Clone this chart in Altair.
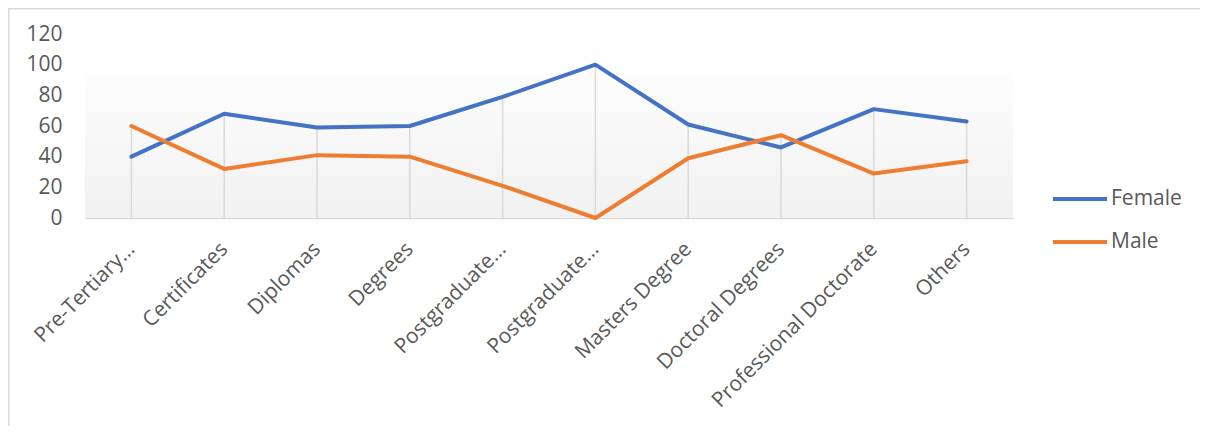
import json
import altair as alt
import pandas as pd

categories = ["Pre-Tertiary…", "Certificates", "Diplomas", "Degrees", "Postgraduate…",
              "Postgraduate…", "Masters Degree", "Doctoral Degrees",
              "Professional Doctorate", "Others"]
female = [40, 68, 59, 60, 79, 100, 61, 46, 71, 63]
male = [60, 32, 41, 40, 21, 0, 39, 54, 29, 37]
series = ["Female", "Male"]
colors = ["#4472C4", "#ED7D31"]
y_ticks = [0, 20, 40, 60, 80, 100, 120]

rows = []
for i, c in enumerate(categories):
    rows.append({"i": i, "cat": c, "series": "Female", "value": female[i]})
    rows.append({"i": i, "cat": c, "series": "Male", "value": male[i]})
long_df = pd.DataFrame(rows)
drop_df = pd.DataFrame({"i": list(range(len(categories))),
                        "top": [max(f, m) for f, m in zip(female, male)]})

W, H = 928, 184
FS = 21
label_expr = json.dumps(categories) + "[datum.value]"

x_enc = alt.X("i:O", title=None,
              scale=alt.Scale(type="point", padding=0.5),
              axis=alt.Axis(labelExpr=label_expr, labelAngle=-45, labelAlign="right",
                            labelBaseline="top", labelPadding=20, labelOffset=-8,
                            ticks=False, domain=True, domainColor="#D9D9D9",
                            domainWidth=1.5, grid=False, labelFontSize=FS,
                            labelColor="#595959", labelFont="Open Sans",
                            labelLimit=400, labelOverlap=False))
y_scale = alt.Scale(domain=[0, 120], nice=False)
y_axis = alt.Axis(values=y_ticks, ticks=False, domain=False, grid=False,
                  labelFontSize=FS, labelColor="#595959", labelFont="Open Sans",
                  labelPadding=23, labelOverlap=False, labelBound=False)

bg = alt.Chart(pd.DataFrame({"a": [0]})).mark_rect(
    fill=alt.LinearGradient(gradient="linear", x1=0, y1=0, x2=0, y2=1,
                            stops=[alt.GradientStop(color="#FDFDFD", offset=0),
                                   alt.GradientStop(color="#F1F1F1", offset=1)])
).encode(
    x=alt.value(0), x2=alt.value(W),
    y=alt.datum(94.5, scale=y_scale, axis=y_axis, title=None), y2=alt.datum(0)
)

drops = alt.Chart(drop_df).mark_rule(color="#D9D9D9", strokeWidth=1.5).encode(
    x=x_enc,
    y=alt.Y("top:Q", scale=y_scale, title=None, axis=y_axis),
    y2=alt.datum(0)
)

lines = alt.Chart(long_df).mark_line(strokeWidth=4, strokeCap="round", strokeJoin="round").encode(
    x=x_enc,
    y=alt.Y("value:Q", scale=y_scale, title=None, axis=y_axis),
    color=alt.Color("series:N", scale=alt.Scale(domain=series, range=colors),
                    legend=alt.Legend(title=None, orient="none", legendX=966, legendY=136,
                                      symbolType="stroke", symbolSize=2916,
                                      symbolStrokeWidth=4, labelFontSize=FS,
                                      labelColor="#595959", labelFont="Open Sans",
                                      labelOffset=2, rowPadding=4)),
    detail="series:N"
)

frame_top = alt.Chart(pd.DataFrame({"a": [0]})).mark_rule(color="#D9D9D9", strokeWidth=1.5).encode(
    x=alt.value(-77), x2=alt.value(1300), y=alt.value(-25.2)
)
frame_left = alt.Chart(pd.DataFrame({"a": [0]})).mark_rule(color="#D9D9D9", strokeWidth=1.5).encode(
    x=alt.value(-76.2), y=alt.value(-26), y2=alt.value(500)
)

chart = alt.layer(bg, drops, lines, frame_top, frame_left).properties(
    width=W, height=H, autosize="none",
    padding={"left": 77, "top": 26, "right": 187, "bottom": 208}
).configure(font="Open Sans", view=alt.ViewConfig(stroke=None),
            axis=alt.AxisConfig(labelOverlap=False))

chart.save("out.html", embed_options={"renderer": "svg", "actions": False})
